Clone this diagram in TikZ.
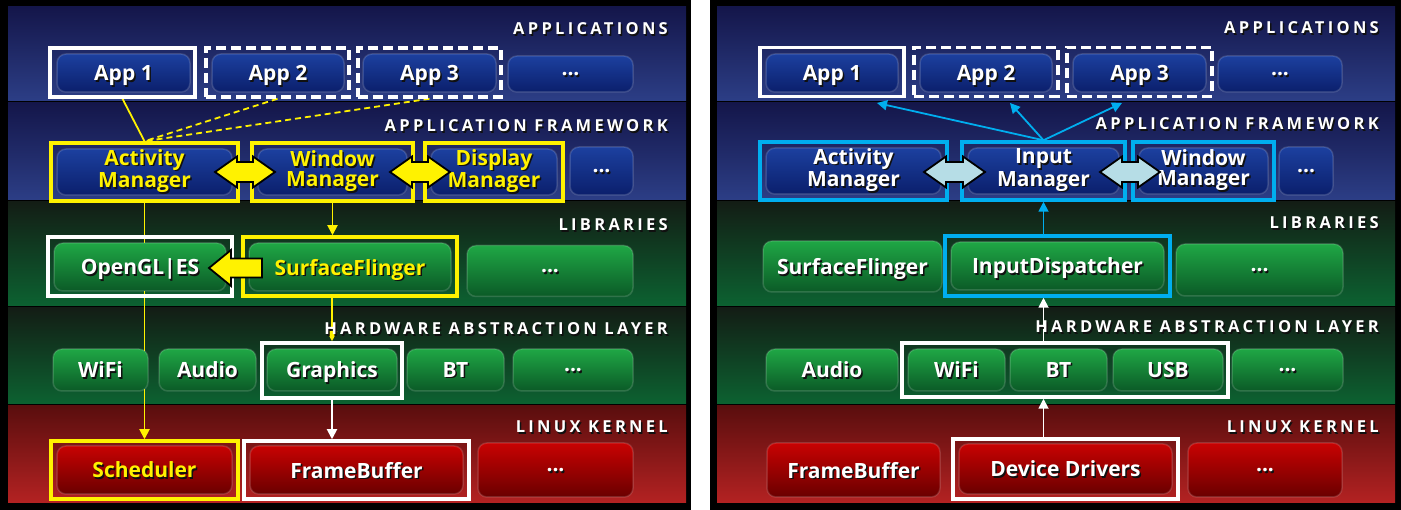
\documentclass[tikz,border=0pt]{standalone}
\usepackage{fontspec}
\setmainfont{Open Sans}
\newfontfamily\lblfont[LetterSpace=20]{Open Sans}
\usetikzlibrary{arrows.meta}
\pgfdeclarelayer{bands}\pgfdeclarelayer{links}
\pgfsetlayers{bands,links,main}
\definecolor{appT}{HTML}{14164A}
\definecolor{appB}{HTML}{2C3E86}
\definecolor{grnT}{HTML}{131D15}
\definecolor{grnB}{HTML}{0C6231}
\definecolor{redT}{HTML}{5A0E0E}
\definecolor{redB}{HTML}{B42222}
\definecolor{bbT}{HTML}{1C409F}
\definecolor{bbB}{HTML}{0B1F6C}
\definecolor{gbT}{HTML}{1FA745}
\definecolor{gbB}{HTML}{0B5A27}
\definecolor{rbT}{HTML}{C80202}
\definecolor{rbB}{HTML}{6A0000}
\definecolor{cy}{HTML}{00AEEF}
\definecolor{lb}{HTML}{B6DDE6}
\definecolor{shd}{HTML}{101010}
\newcommand\Sh[1]{\makebox[0pt][l]{\raisebox{-1.5pt}{\hspace{1.5pt}\textcolor{shd}{#1}}}#1}
\newcommand\DArr[4]{%
 \draw[dar,fill=#4] ({#1-#3},#2) -- ++(22,-15.5) -- ++(0,5.5) -- ({#1+#3-22},{#2-10}) -- ++(0,-5.5) -- ({#1+#3},#2) -- ++(-22,15.5) -- ++(0,-5.5) -- ({#1-#3+22},{#2+10}) -- ++(0,5.5) -- cycle;}
\newcommand\Bands[2]{%
 \shade[top color=appT,bottom color=appB] (#1,7) rectangle (#2,101);
 \shade[top color=appT,bottom color=appB] (#1,103) rectangle (#2,200);
 \shade[top color=grnT,bottom color=grnB] (#1,202) rectangle (#2,306);
 \shade[top color=grnT,bottom color=grnB] (#1,308) rectangle (#2,404);
 \shade[top color=redT,bottom color=redB] (#1,406) rectangle (#2,503);}
\tikzset{
 btn2/.style={rounded corners=9pt, draw=white, draw opacity=0.15, line width=1.5pt, text=white,
   font=\fontsize{21}{20}\selectfont\bfseries, align=center, inner sep=0pt},
 btn/.style={btn2, text depth=0pt},
 bB/.style={btn, top color=bbT, bottom color=bbB},
 bB2/.style={btn2, top color=bbT, bottom color=bbB},
 bG/.style={btn, top color=gbT, bottom color=gbB},
 bR/.style={btn, top color=rbT, bottom color=rbB},
 ytx/.style={text=yellow},
 fr/.style={rectangle, inner sep=0pt, line width=3.5pt},
 frW/.style={fr, draw=white},
 frWd/.style={fr, draw=white, dash pattern=on 10pt off 5pt},
 frY/.style={fr, draw=yellow},
 frC/.style={fr, draw=cy},
 lbl/.style={anchor=base east, text=white, font=\lblfont\fontsize{16.5}{16.5}\selectfont\bfseries, inner sep=0pt},
 yl/.style={draw=yellow, line width=1.8pt},
 wl/.style={draw=white, line width=1.8pt},
 cl/.style={draw=cy, line width=1.8pt},
 tip/.style={-{Triangle[length=10pt,width=10pt]}},
 dar/.style={draw=black, line width=1.8pt, line join=miter},
}
\begin{document}
\begin{tikzpicture}[x=1pt,y=-1pt]
\useasboundingbox (0,0) rectangle (1401,510);
\begin{pgfonlayer}{bands}
\fill[white] (0,0) rectangle (1401,510);
\fill[black] (0,0) rectangle (691,510);
\fill[black] (710,0) rectangle (1401,510);
\Bands{8}{686}
\Bands{717}{1395}
\end{pgfonlayer}
% ---------- layer titles
\node[lbl] (Lt1) at (668,35) {\Sh{APPLICATIONS}};
\node[lbl] (Lt2) at (668,132) {\Sh{APPLICATION FRAMEWORK}};
\node[lbl] (Lt3) at (668,231) {\Sh{LIBRARIES}};
\node[lbl] (Lt4) at (668,335) {\Sh{HARDWARE ABSTRACTION LAYER}};
\node[lbl] (Lt5) at (668,433) {\Sh{LINUX KERNEL}};
\node[lbl] (Rt1) at (1379,34) {\Sh{APPLICATIONS}};
\node[lbl] (Rt2) at (1379,130) {\Sh{APPLICATION FRAMEWORK}};
\node[lbl] (Rt3) at (1379,229) {\Sh{LIBRARIES}};
\node[lbl] (Rt4) at (1379,333) {\Sh{HARDWARE ABSTRACTION LAYER}};
\node[lbl] (Rt5) at (1379,433) {\Sh{LINUX KERNEL}};
% ================= LEFT PANEL =================
% applications
\node[bB,minimum width=133,minimum height=38] (La1) at (123.5,73) {\Sh{App 1}};
\node[frW,minimum width=145,minimum height=49] (La1f) at (122.5,72.5) {};
\node[bB,minimum width=132,minimum height=38] (La2) at (278,73) {\Sh{App 2}};
\node[frWd,minimum width=143,minimum height=49] (La2f) at (277.5,72.5) {};
\node[bB,minimum width=133,minimum height=38] (La3) at (429.5,73) {\Sh{App 3}};
\node[frWd,minimum width=143,minimum height=49] (La3f) at (429.5,72.5) {};
\node[bB,minimum width=125,minimum height=36] (La4) at (570.5,74) {\Sh{...}};
% framework
\node[bB2,ytx,minimum width=175,minimum height=46] (Lam) at (144.5,172) {\Sh{Activity}\\\Sh{Manager}};
\node[frY,minimum width=187,minimum height=58] (Lamf) at (144.5,172) {};
\node[bB2,ytx,minimum width=149,minimum height=46] (Lwm) at (332.5,172) {\Sh{Window}\\\Sh{Manager}};
\node[frY,minimum width=161,minimum height=58] (Lwmf) at (332.5,172) {};
\node[bB2,ytx,minimum width=126,minimum height=46] (Ldm) at (494,172) {\Sh{Display}\\\Sh{Manager}};
\node[frY,minimum width=138,minimum height=58] (Ldmf) at (494,172) {};
\node[bB,minimum width=63,minimum height=48] (Lfd) at (601.5,171) {\Sh{...}};
% libraries
\node[bG,minimum width=172,minimum height=48] (Lgl) at (140,267) {\Sh{OpenGL|ES}};
\node[frW,minimum width=184,minimum height=59] (Lglf) at (140,266.5) {};
\node[bG,ytx,minimum width=202,minimum height=48] (Lsf) at (350,267) {\Sh{SurfaceFlinger}};
\node[frY,minimum width=214,minimum height=59] (Lsff) at (350,266.5) {};
\node[bG,minimum width=166,minimum height=51] (Lld) at (550,271) {\Sh{...}};
% HAL
\node[bG,minimum width=95,minimum height=42] (Lwifi) at (100.5,370) {\Sh{WiFi}};
\node[bG,minimum width=97,minimum height=42] (Laud) at (207.5,370) {\Sh{Audio}};
\node[bG,minimum width=130,minimum height=42] (Lgr) at (332,370) {\Sh{Graphics}};
\node[frW,minimum width=140,minimum height=55] (Lgrf) at (332,370.5) {};
\node[bG,minimum width=97,minimum height=42] (Lbt) at (455.5,370) {\Sh{BT}};
\node[bG,minimum width=120,minimum height=42] (Lhd) at (573,370) {\Sh{...}};
% kernel
\node[bR,ytx,minimum width=175,minimum height=48] (Lsch) at (144.5,470) {\Sh{Scheduler}};
\node[frY,minimum width=187,minimum height=58] (Lschf) at (144.5,470) {};
\node[bR,minimum width=213,minimum height=48] (Lfb) at (356.5,470) {\Sh{FrameBuffer}};
\node[frW,minimum width=225,minimum height=58] (Lfbf) at (356.5,470) {};
\node[bR,minimum width=155,minimum height=54] (Lkd) at (555.5,470) {\Sh{...}};
% connectors left
\begin{pgfonlayer}{links}
\draw[yl] (La1f.south) -- (Lamf.north);
\draw[yl,dash pattern=on 6pt off 4pt] (La2f.south) -- (Lamf.north);
\draw[yl,dash pattern=on 6pt off 4pt] (La3f.south) -- (Lamf.north);
\draw[yl,tip] (Lamf.south) -- (Lschf.north);
\draw[yl,tip] (Lwmf.south) -- (Lwmf.south |- Lsff.north);
\draw[yl,tip] (Lgrf.north |- Lsff.south) -- (Lgrf.north);
\draw[wl,tip] (Lgrf.south) -- (Lgrf.south |- Lfbf.north);
\end{pgfonlayer}
\DArr{245}{172}{30}{yellow}
\DArr{420}{172}{30}{yellow}
\draw[dar,fill=yellow] (209,268) -- (231,250) -- (231,258.5) -- (262,258.5) -- (262,277.5) -- (231,277.5) -- (231,286) -- cycle;
% ================= RIGHT PANEL =================
\node[bB,minimum width=132,minimum height=38] (Ra1) at (832,73) {\Sh{App 1}};
\node[frW,minimum width=144,minimum height=49] (Ra1f) at (832,72) {};
\node[bB,minimum width=132,minimum height=38] (Ra2) at (986,73) {\Sh{App 2}};
\node[frWd,minimum width=144,minimum height=49] (Ra2f) at (986,72) {};
\node[bB,minimum width=133,minimum height=38] (Ra3) at (1139.5,73) {\Sh{App 3}};
\node[frWd,minimum width=145,minimum height=49] (Ra3f) at (1139.5,72) {};
\node[bB,minimum width=124,minimum height=36] (Ra4) at (1280,74) {\Sh{...}};
\node[bB2,minimum width=175,minimum height=46] (Ram) at (853.5,171) {\Sh{Activity}\\\Sh{Manager}};
\node[frC,minimum width=187,minimum height=58] (Ramf) at (853.5,171) {};
\node[bB2,minimum width=151,minimum height=46] (Rim) at (1043.5,171) {\Sh{Input}\\\Sh{Manager}};
\node[frC,minimum width=163,minimum height=58] (Rimf) at (1043.5,171) {};
\node[bB2,minimum width=129,minimum height=46] (Rwm) at (1203.5,171) {\Sh{Window}\\\Sh{Manager}};
\node[frC,minimum width=141,minimum height=58] (Rwmf) at (1203.5,171) {};
\node[bB,minimum width=54,minimum height=48] (Rfd) at (1306,171) {\Sh{...}};
\node[bG,minimum width=179,minimum height=51] (Rsf) at (852.5,266.5) {\Sh{SurfaceFlinger}};
\node[bG,minimum width=213,minimum height=48] (Rid) at (1057.5,266) {\Sh{InputDispatcher}};
\node[frC,minimum width=225,minimum height=60] (Ridf) at (1057.5,266) {};
\node[bG,minimum width=167,minimum height=52] (Rld) at (1259.5,270) {\Sh{...}};
\node[bG,minimum width=132,minimum height=42] (Raud) at (832,370) {\Sh{Audio}};
\node[bG,minimum width=97,minimum height=42] (Rwifi) at (956.5,370) {\Sh{WiFi}};
\node[bG,minimum width=97,minimum height=42] (Rbt) at (1058.5,370) {\Sh{BT}};
\node[bG,minimum width=110,minimum height=42] (Rusb) at (1168,370) {\Sh{USB}};
\node[frW,minimum width=326,minimum height=54] (Rhalf) at (1065,370) {};
\node[bG,minimum width=111,minimum height=42] (Rhd) at (1287.5,370) {\Sh{...}};
\node[bR,minimum width=173,minimum height=54] (Rfb) at (853.5,470) {\Sh{FrameBuffer}};
\node[bR,minimum width=213,minimum height=50] (Rdd) at (1065.5,469) {\Sh{Device Drivers}};
\node[frW,minimum width=225,minimum height=60] (Rddf) at (1065.5,469) {};
\node[bR,minimum width=154,minimum height=54] (Rkd) at (1265,470) {\Sh{...}};
\coordinate (e1) at (877,103);
\coordinate (e2) at (1010,103);
\coordinate (e3) at (1122,103);
\begin{pgfonlayer}{links}
\draw[cl,tip] (Rimf.north) -- (e1);
\draw[cl,tip] (Rimf.north) -- (e2);
\draw[cl,tip] (Rimf.north) -- (e3);
\draw[cl,tip] (Ridf.north -| Rimf.south) -- (Rimf.south);
\draw[wl,tip] (Rhalf.north -| Rimf.south) -- (Ridf.south -| Rimf.south);
\draw[wl,tip] (Rddf.north -| Rimf.south) -- (Rhalf.south -| Rimf.south);
\end{pgfonlayer}
\DArr{954.5}{172}{30.5}{lb}
\DArr{1130}{172}{30}{lb}
\end{tikzpicture}
\end{document}
